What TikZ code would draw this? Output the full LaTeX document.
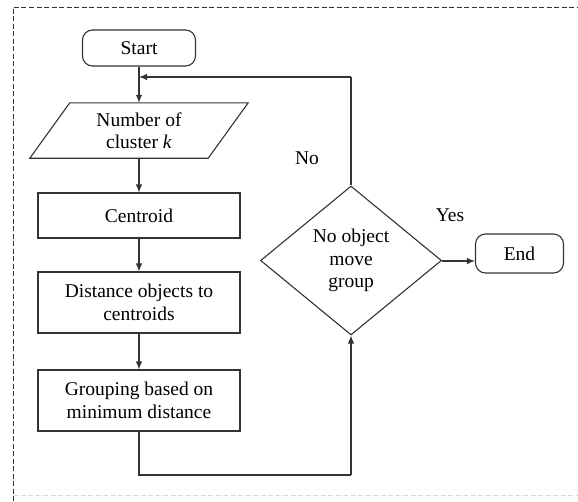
\documentclass[tikz,border=0pt]{standalone}
\usepackage{fontspec}
\setmainfont{Liberation Serif}
\usetikzlibrary{shapes.geometric,arrows.meta,calc}
\begin{document}
\begin{tikzpicture}[x=1pt,y=-1pt,
  font=\fontsize{19.5}{22.5}\selectfont,
  line/.style={draw=black!80,line width=1.1pt},
  arr/.style={line,-{Latex[length=8pt,width=6.5pt]}},
  term/.style={line,rounded corners=10pt,minimum width=113pt,minimum height=36pt,inner sep=0pt},
  proc/.style={line,minimum width=202pt,inner sep=0pt,align=center},
  frame/.style={dash pattern=on 5pt off 2.5pt,line width=0.9pt}
]
\useasboundingbox (0,0) rectangle (578,501);
\draw[frame,black!80] (13,501) -- (13,7) -- (578,7);
\draw[frame,black!15] (13,495) -- (578,495);

\node[term] (start) at (139,48) {Start};
\node[minimum width=178pt,minimum height=55pt,inner sep=0pt,align=center] (para) at (139,130.5) {Number of\\cluster \textit{k}};
\draw[line] ($(para.north west)+(20,0)$) -- ($(para.north east)+(20,0)$) -- ($(para.south east)+(-20,0)$) -- ($(para.south west)+(-20,0)$) -- cycle;
\node[proc,minimum height=45pt] (cent) at (139,215.5) {Centroid};
\node[proc,minimum height=61pt] (dist) at (139,302.5) {Distance objects to\\centroids};
\node[proc,minimum height=61pt] (group) at (139,400.5) {Grouping based on\\minimum distance};
\node[line,diamond,aspect=1.2,minimum width=181pt,minimum height=149pt,inner sep=0pt,align=center] (dec) at (351,260.5) {No object\\move\\group};
\node[term,minimum width=88pt,minimum height=39pt] (end) at (519.5,253.5) {End};

\coordinate (j) at (139,77);
\coordinate (c1) at (351,77);
\coordinate (b2) at (351,475);

\draw[arr] (start.south) -- (para.north);
\draw[arr] (para.south) -- (cent.north);
\draw[arr] (cent) -- (dist);
\draw[arr] (dist) -- (group);
\draw[line] (group.south) |- (b2);
\draw[arr] (b2) -- (dec.south);
\draw[line] (dec.north) -- (c1);
\draw[arr] (c1) -- (j);
\coordinate (e1) at ($(dec.east)+(0,0.5)$);
\draw[arr] (e1) -- (e1 -| end.west);

\node (no) at (307,158) {No};
\node (yes) at (450,215) {Yes};
\end{tikzpicture}
\end{document}
